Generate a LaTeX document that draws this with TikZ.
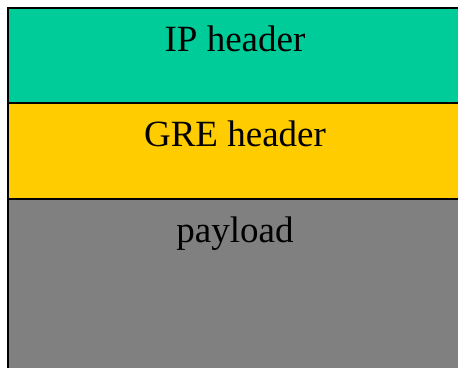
\documentclass[tikz,border=0pt]{standalone}
\usepackage{fontspec}
\setmainfont{Liberation Serif}
\usepackage{tikz}
\usetikzlibrary{positioning}

\definecolor{ipcol}{RGB}{0,204,153}
\definecolor{grecol}{RGB}{255,204,0}
\definecolor{paycol}{RGB}{128,128,128}

\tikzset{
	band/.style={draw, line width=2pt, outer sep=0pt, inner sep=0pt, minimum width=454pt, anchor=north west},
	lbl/.style={anchor=base, font=\fontsize{37}{41}\selectfont}
}

\begin{document}
\begin{tikzpicture}[x=1pt, y=1pt]
			\useasboundingbox (0, 0) rectangle (458, 367);
			\node[band, fill=ipcol, minimum height=95pt] (ip) at (8, 359) {};
			\node[band, fill=grecol, minimum height=96pt, below=0pt of ip.south west, anchor=north west] (gre) {};
			\node[band, fill=paycol, minimum height=170pt, below=0pt of gre.south west, anchor=north west] (pay) {};

			\node[lbl] (iplbl) at (235, 315) {IP header};
			\node[lbl] (grelbl) at (235, 220) {GRE header};
			\node[lbl] (paylbl) at (235, 124) {payload};
\end{tikzpicture}
\end{document}
